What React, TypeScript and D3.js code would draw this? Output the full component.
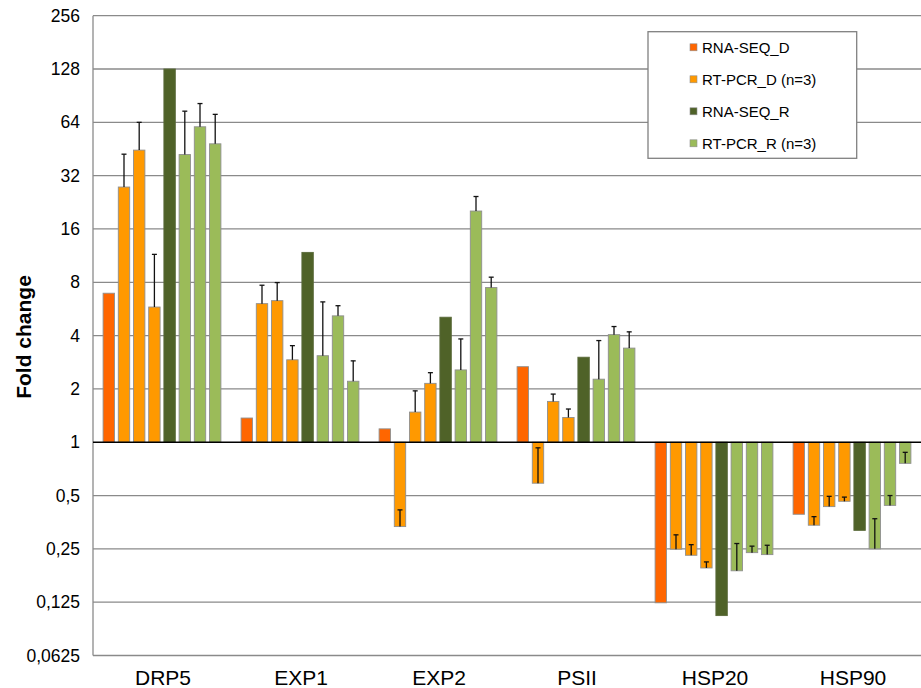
import React from "react";
import * as d3 from "d3";

const categories = ["DRP5", "EXP1", "EXP2", "PSII", "HSP20", "HSP90"];

// bar values (fold change) per column within each gene group
const rnaSeqD = [6.94, 1.37, 1.19, 2.67, 0.124, 0.392];
const rtPcrD1 = [27.6, 6.06, 0.334, 0.587, 0.249, 0.34];
const rtPcrD2 = [44.6, 6.3, 1.48, 1.7, 0.23, 0.433];
const rtPcrD3 = [5.8, 2.92, 2.15, 1.38, 0.195, 0.464];
const rnaSeqR = [128, 11.8, 5.08, 3.02, 0.105, 0.318];
const rtPcrR1 = [42.1, 3.08, 2.56, 2.27, 0.188, 0.25];
const rtPcrR2 = [60.4, 5.17, 20.2, 4.05, 0.238, 0.44];
const rtPcrR3 = [48.4, 2.21, 7.47, 3.4, 0.232, 0.76];

// error bar whisker ends (fold change)
const rtPcrD1Err = [42.3, 7.7, 0.415, 0.93, 0.3, 0.38];
const rtPcrD2Err = [64, 7.97, 1.95, 1.87, 0.264, 0.495];
const rtPcrD3Err = [11.5, 3.51, 2.47, 1.54, 0.211, 0.49];
const rtPcrR1Err = [74, 6.2, 3.83, 3.75, 0.268, 0.37];
const rtPcrR2Err = [81.7, 5.9, 24.4, 4.5, 0.259, 0.5];
const rtPcrR3Err = [71, 2.88, 8.55, 4.2, 0.262, 0.877];

const tickValues = [0.0625, 0.125, 0.25, 0.5, 1, 2, 4, 8, 16, 32, 64, 128, 256];
const tickLabels = ["0,0625", "0,125", "0,25", "0,5", "1", "2", "4", "8", "16", "32", "64", "128", "256"];

const legendLabels = ["RNA-SEQ_D", "RT-PCR_D (n=3)", "RNA-SEQ_R", "RT-PCR_R (n=3)"];
const legendColors = ["#FF6600", "#FF9900", "#4F6228", "#9BBB59"];

const columns = [
  { values: rnaSeqD, err: null as number[] | null, legend: 0 },
  { values: rtPcrD1, err: rtPcrD1Err, legend: 1 },
  { values: rtPcrD2, err: rtPcrD2Err, legend: 1 },
  { values: rtPcrD3, err: rtPcrD3Err, legend: 1 },
  { values: rnaSeqR, err: null as number[] | null, legend: 2 },
  { values: rtPcrR1, err: rtPcrR1Err, legend: 3 },
  { values: rtPcrR2, err: rtPcrR2Err, legend: 3 },
  { values: rtPcrR3, err: rtPcrR3Err, legend: 3 },
];

const W = 921;
const H = 688;
const plotLeft = 93;
const plotRight = 921;
const plotTop = 15.7;
const plotBottom = 655.5;
const font = "'Liberation Sans', Arial, Helvetica, sans-serif";

export default function App() {
  const x = d3.scaleBand<string>().domain(categories).range([plotLeft, plotRight]).paddingInner(0).paddingOuter(0);
  const xi = d3
    .scaleBand<number>()
    .domain(d3.range(columns.length))
    .range([0, x.bandwidth()])
    .paddingInner(0.25)
    .paddingOuter(0.664);
  const y = d3.scaleLog().base(2).domain([0.0625, 256]).range([plotBottom, plotTop]);
  const y1 = y(1);
  const bw = xi.bandwidth();

  return (
    <svg
      width={W}
      height={H}
      style={{ position: "absolute", left: 0, top: 0, background: "#fff" }}
      fontFamily={font}
    >
      <rect x={0} y={0} width={W} height={H} fill="#fff" />
      {/* gridlines */}
      {tickValues.map((t) =>
        t === 1 ? null : (
          <line key={t} x1={plotLeft} x2={plotRight} y1={y(t)} y2={y(t)} stroke="#8a8a8a" strokeWidth={1.3} />
        )
      )}
      {/* left axis */}
      <line x1={plotLeft} x2={plotLeft} y1={plotTop} y2={plotBottom} stroke="#8a8a8a" strokeWidth={1.3} />
      {/* tick labels */}
      {tickValues.map((t, i) => (
        <text key={t} x={80} y={y(t)} dy="0.35em" textAnchor="end" fontSize={17.5} fill="#000">
          {tickLabels[i]}
        </text>
      ))}
      {/* bars */}
      {categories.map((c, gi) => (
        <g key={c} transform={`translate(${x(c)},0)`}>
          {columns.map((col, ci) => {
            const v = col.values[gi];
            const yv = y(v);
            const top = Math.min(yv, y1);
            const h = Math.abs(yv - y1);
            const bx = xi(ci)!;
            const cx = bx + bw / 2;
            const e = col.err ? col.err[gi] : null;
            return (
              <g key={ci}>
                <rect
                  x={bx}
                  y={top}
                  width={bw}
                  height={h}
                  fill={legendColors[col.legend]}
                  stroke={col.legend === 2 ? "#5a6a3a" : "#8f8f8f"}
                  strokeWidth={0.9}
                />
                {e !== null && (
                  <g stroke="#111" strokeWidth={1.3}>
                    <line x1={cx} x2={cx} y1={yv} y2={y(e)} />
                    <line x1={cx - 2.5} x2={cx + 2.5} y1={y(e)} y2={y(e)} />
                  </g>
                )}
              </g>
            );
          })}
        </g>
      ))}
      {/* baseline at 1 */}
      <line x1={plotLeft} x2={plotRight} y1={y1} y2={y1} stroke="#000" strokeWidth={1.5} />
      {/* category labels */}
      {categories.map((c) => (
        <text key={c} x={x(c)! + x.bandwidth() / 2 + 1} y={685} textAnchor="middle" fontSize={21} fill="#000">
          {c}
        </text>
      ))}
      {/* y title */}
      <text
        transform={`translate(31,337) rotate(-90)`}
        textAnchor="middle"
        fontSize={21}
        fontWeight="bold"
        fill="#000"
      >
        Fold change
      </text>
      {/* legend */}
      <g>
        <rect x={648} y={31.7} width={208.7} height={126.6} fill="#fff" stroke="#808080" strokeWidth={1.3} />
        {legendLabels.map((l, i) => {
          const ly = 47.3 + i * 32;
          return (
            <g key={l}>
              <rect x={690} y={ly - 3.5} width={7} height={7} fill={legendColors[i]} stroke="#8f8f8f" strokeWidth={0.6} />
              <text x={702} y={ly} dy="0.35em" fontSize={15} fill="#000">
                {l}
              </text>
            </g>
          );
        })}
      </g>
    </svg>
  );
}
